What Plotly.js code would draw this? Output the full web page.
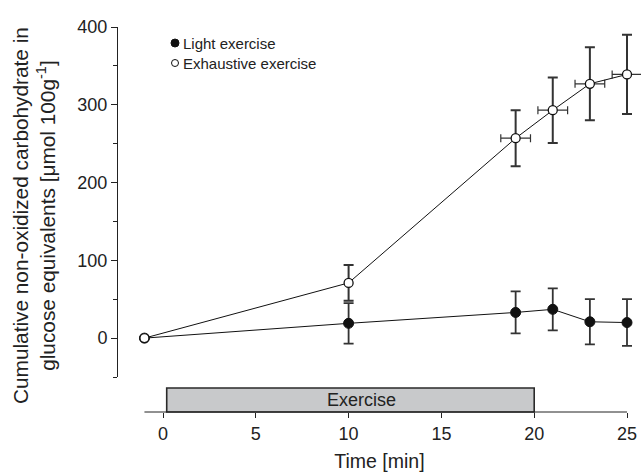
<!DOCTYPE html>
<html>
<head>
<meta charset="utf-8">
<script src="https://cdn.plot.ly/plotly-3.0.1.min.js"></script>
<style>html,body{margin:0;padding:0;background:#fff;}#chart{width:641px;height:473px;}</style>
</head>
<body>
<div id="chart"></div>
<script>
// Data
const timeLight = [-1, 10, 19, 21, 23, 25];
const light = [0, 19, 33, 37, 21, 20];
const lightErr = [null, 26, 27, 27, 29, 30];

const timeExh = [-1, 10, 19, 21, 23, 25];
const exhaustive = [0, 71, 257, 293, 327, 339];
const exhErr = [null, 23, 36, 42, 47, 51];
const exhTimeErr = [null, null, 0.8, 0.8, 0.8, 0.8];

const seriesNames = ['Light exercise', 'Exhaustive exercise'];
const exercisePeriod = [0.2, 20];
const exerciseLabel = 'Exercise';
const xTicks = [0, 5, 10, 15, 20, 25];
const xAxisSpan = [-1, 25];

const FONT = 'Liberation Sans, Arial, Helvetica, sans-serif';
const INK = '#222';

// plot-area geometry helpers (paper coords)
const L = 118, R = 0, T = 27, B = 61, W = 641, H = 473;
const pw = W - L - R, ph = H - T - B;
const px = v => (v - L) / pw;
const py = v => (H - B - v) / ph;

const traces = [
  {
    x: timeLight, y: light, type: 'scatter', mode: 'lines+markers',
    name: seriesNames[0], showlegend: false, cliponaxis: false,
    line: {color: '#111', width: 1},
    marker: {symbol: 'circle', size: 10, color: '#111', line: {color: '#111', width: 1}},
    error_y: {type: 'data', array: lightErr, visible: true, color: '#333', thickness: 1.8, width: 5}
  },
  {
    x: timeExh, y: exhaustive, type: 'scatter', mode: 'lines+markers',
    name: seriesNames[1], showlegend: false, cliponaxis: false,
    line: {color: '#111', width: 1},
    marker: {symbol: 'circle', size: 9, color: '#fff', line: {color: '#111', width: 1.3}},
    error_y: {type: 'data', array: exhErr, visible: true, color: '#333', thickness: 2, width: 5},
    error_x: {type: 'data', array: exhTimeErr, visible: true, color: '#333', thickness: 1.2, width: 4}
  }
];

const layout = {
  width: W, height: H,
  margin: {l: L, r: R, t: T, b: B, pad: 0},
  paper_bgcolor: '#fff', plot_bgcolor: 'rgba(0,0,0,0)',
  font: {family: FONT, size: 18, color: INK},
  showlegend: false,
  xaxis: {
    range: [(L - 163) / 18.56, (W - 163) / 18.56],
    anchor: 'free', position: 0,
    showline: false, zeroline: false, showgrid: false,
    tickmode: 'array', tickvals: xTicks, ticktext: xTicks.map(String),
    ticks: 'outside', ticklen: 5, tickwidth: 1, tickcolor: INK,
    tickfont: {size: 18, family: FONT, color: INK},
    title: {text: 'Time [min]', font: {size: 19.5, family: FONT, color: INK}, standoff: 11}
  },
  yaxis: {
    domain: [py(H - B - 35), 1],
    range: [-50, 400],
    showline: true, linecolor: INK, linewidth: 1,
    zeroline: false, showgrid: false,
    ticks: 'outside', ticklen: 6, tickwidth: 1, tickcolor: INK,
    minor: {dtick: 50, tick0: 0, ticks: 'outside', ticklen: 4, tickwidth: 1, tickcolor: INK, showgrid: false},
    tickfont: {size: 18, family: FONT, color: INK},
    tickmode: 'array',
    tickvals: [0, 100, 200, 300, 400],
    ticktext: ['0', '100', '200', '300', '400']
  },
  shapes: [
    // x axis baseline spanning the data range
    {type: 'line', xref: 'x', yref: 'paper', x0: xAxisSpan[0], x1: xAxisSpan[1], y0: 0, y1: 0,
     line: {color: INK, width: 1}},
    // exercise period bar
    {type: 'rect', xref: 'x', yref: 'paper', x0: exercisePeriod[0], x1: exercisePeriod[1],
     y0: 0, y1: py(388), fillcolor: '#c8c9cb', line: {color: '#2a2a2a', width: 1.6}, layer: 'below'},
    // legend symbols
    {type: 'circle', xref: 'paper', yref: 'paper', xsizemode: 'pixel', ysizemode: 'pixel',
     xanchor: px(175), yanchor: py(43), x0: -4, x1: 4, y0: -4, y1: 4,
     fillcolor: '#111', line: {color: '#111', width: 1}},
    {type: 'circle', xref: 'paper', yref: 'paper', xsizemode: 'pixel', ysizemode: 'pixel',
     xanchor: px(175), yanchor: py(63), x0: -3.5, x1: 3.5, y0: -3.5, y1: 3.5,
     fillcolor: '#fff', line: {color: '#111', width: 1}}
  ],
  annotations: [
    {text: seriesNames[0], xref: 'paper', yref: 'paper', x: px(181), y: py(43),
     xanchor: 'left', yanchor: 'middle', showarrow: false, font: {size: 15, family: FONT, color: INK}},
    {text: seriesNames[1], xref: 'paper', yref: 'paper', x: px(181), y: py(63),
     xanchor: 'left', yanchor: 'middle', showarrow: false, font: {size: 15, family: FONT, color: INK}},
    {text: exerciseLabel, xref: 'x', yref: 'paper', x: (exercisePeriod[0] + exercisePeriod[1]) / 2, xshift: 11,
     y: py(400), xanchor: 'center', yanchor: 'middle', showarrow: false,
     font: {size: 18, family: FONT, color: INK}},
    {text: 'Cumulative non-oxidized carbohydrate in<br>glucose equivalents [μmol 100g<sup>-1</sup>]',
     xref: 'paper', yref: 'paper', x: px(34), y: py(216), textangle: -90,
     xanchor: 'center', yanchor: 'middle', showarrow: false,
     font: {size: 20.8, family: FONT, color: INK}}
  ]
};

Plotly.newPlot('chart', traces, layout, {displayModeBar: false, staticPlot: true});
</script>
</body>
</html>
